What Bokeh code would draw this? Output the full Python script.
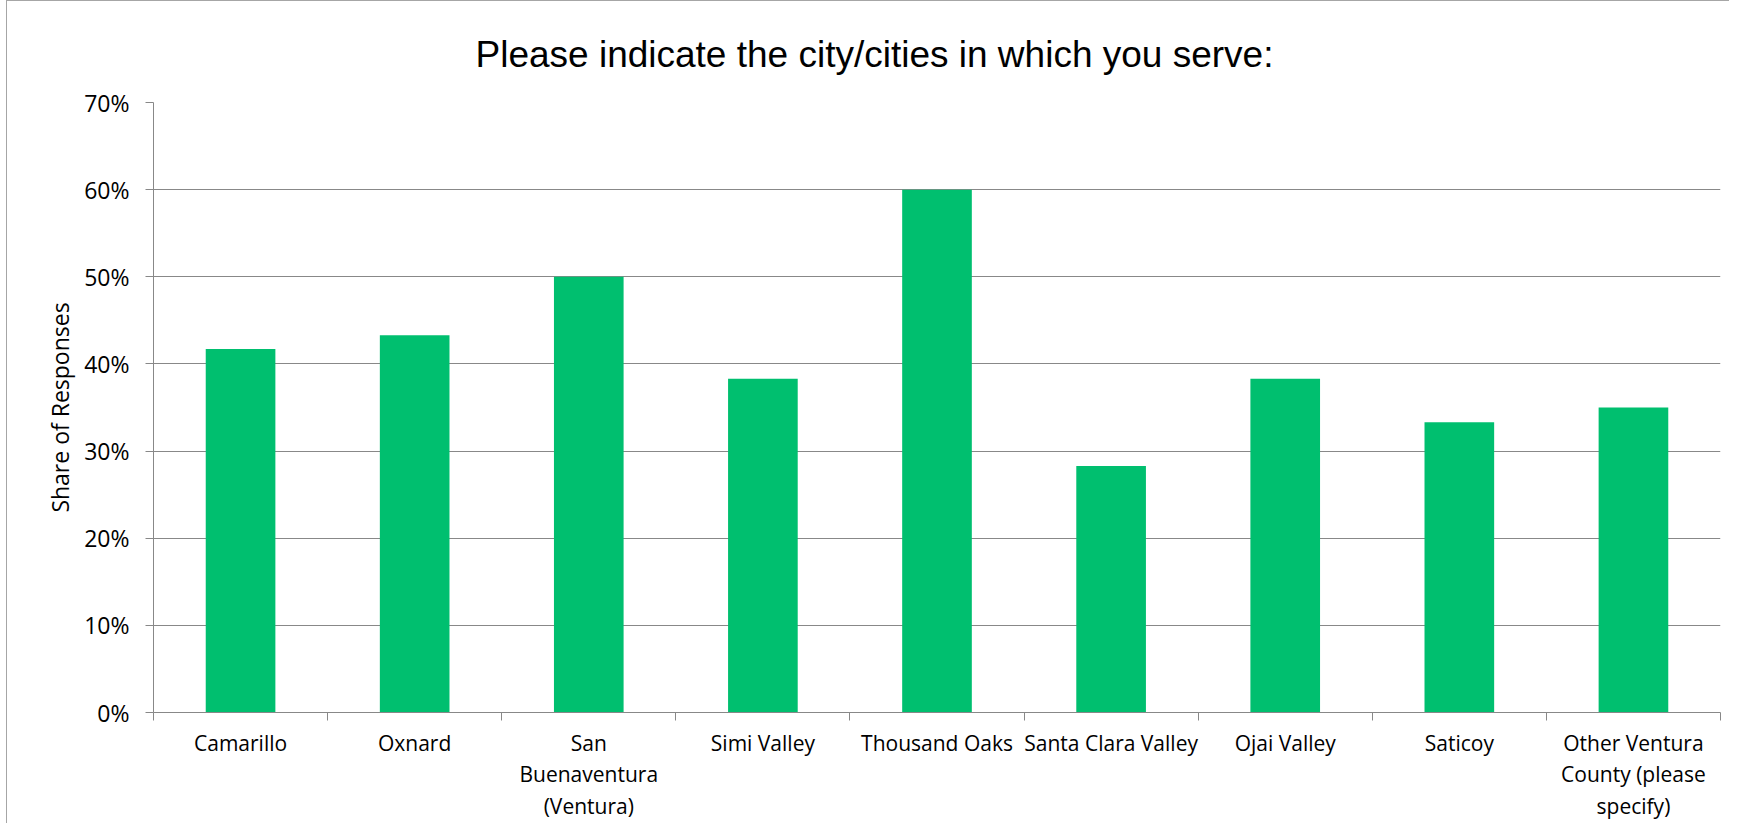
from bokeh.plotting import figure
from bokeh.models import (Range1d, LinearAxis, FixedTicker, NumeralTickFormatter,
                          ColumnDataSource)
from bokeh.embed import file_html
from bokeh.resources import INLINE

# ---- data ----
cities = ["Camarillo", "Oxnard", "San Buenaventura (Ventura)", "Simi Valley",
          "Thousand Oaks", "Santa Clara Valley", "Ojai Valley", "Saticoy",
          "Other Ventura County (please specify)"]
city_labels = ["Camarillo", "Oxnard", "San\nBuenaventura\n(Ventura)", "Simi Valley",
               "Thousand Oaks", "Santa Clara Valley", "Ojai Valley", "Saticoy",
               "Other Ventura\nCounty (please\nspecify)"]
shares = [0.417, 0.433, 0.500, 0.383, 0.600, 0.283, 0.383, 0.333, 0.350]
y_ticks = [0.0, 0.1, 0.2, 0.3, 0.4, 0.5, 0.6, 0.7]
title_text = "Please indicate the city/cities in which you serve:"
y_title = "Share of Responses"

GREEN = "#00BF6F"
GRID = "#888888"
LABEL_FONT = "Open Sans"

n = len(cities)
slot_centers = [i + 0.5 for i in range(n)]
src = ColumnDataSource(dict(x=slot_centers, share=shares, city=cities))

p = figure(width=1723, height=823, output_backend="svg", toolbar_location=None,
           x_range=Range1d(0, n), y_range=Range1d(0, 0.7),
           x_axis_location=None, title=title_text,
           min_border_left=146, min_border_right=10, min_border_top=101,
           min_border_bottom=112)
p.margin = (0, 0, 0, 6)
p.styles = {"border-left": "1px solid #a6a6a6", "border-top": "1px solid #a6a6a6"}
p.outline_line_color = None

p.title.text_font = "Liberation Sans"
p.title.text_font_style = "normal"
p.title.text_font_size = "37px"
p.title.text_line_height = 1.0
p.title.text_color = "#000000"
p.title.align = "left"
p.title.offset = 322
p.title.standoff = 56

p.vbar(x="x", top="share", width=0.4, source=src, fill_color=GREEN, line_color=None)

# y axis
ya = p.yaxis[0]
ya.ticker = FixedTicker(ticks=y_ticks)
ya.formatter = NumeralTickFormatter(format="0%")
ya.axis_line_color = GRID
ya.major_tick_line_color = GRID
ya.major_tick_out = 8
ya.major_tick_in = 0
ya.minor_tick_line_color = None
ya.major_label_text_font = LABEL_FONT
ya.major_label_text_font_size = "23px"
ya.major_label_text_color = "#000000"
ya.major_label_standoff = 16
ya.axis_label = y_title
ya.axis_label_text_font = LABEL_FONT
ya.axis_label_text_font_size = "23px"
ya.axis_label_text_font_style = "normal"
ya.axis_label_text_color = "#000000"
ya.axis_label_standoff = 5

p.ygrid.ticker = FixedTicker(ticks=y_ticks)
p.ygrid.grid_line_color = GRID
p.ygrid.grid_line_width = 1
p.xgrid.visible = False

# category boundary ticks
tick_axis = LinearAxis(ticker=FixedTicker(ticks=list(range(n + 1))))
tick_axis.axis_line_color = GRID
tick_axis.major_tick_line_color = GRID
tick_axis.major_tick_out = 8
tick_axis.major_tick_in = 0
tick_axis.minor_tick_line_color = None
tick_axis.major_label_text_font_size = "0px"
tick_axis.major_label_standoff = 0
p.add_layout(tick_axis, "below")

# category labels
lab_axis = LinearAxis(ticker=FixedTicker(ticks=slot_centers))
lab_axis.axis_line_color = None
lab_axis.major_tick_line_color = None
lab_axis.minor_tick_line_color = None
lab_axis.major_label_overrides = dict(zip(slot_centers, city_labels))
lab_axis.major_label_text_font = LABEL_FONT
lab_axis.major_label_text_font_size = "21px"
lab_axis.major_label_text_line_height = 1.13
lab_axis.major_label_text_color = "#000000"
lab_axis.major_label_standoff = 2
p.add_layout(lab_axis, "below")

open("out.html", "w").write(file_html(p, INLINE))
